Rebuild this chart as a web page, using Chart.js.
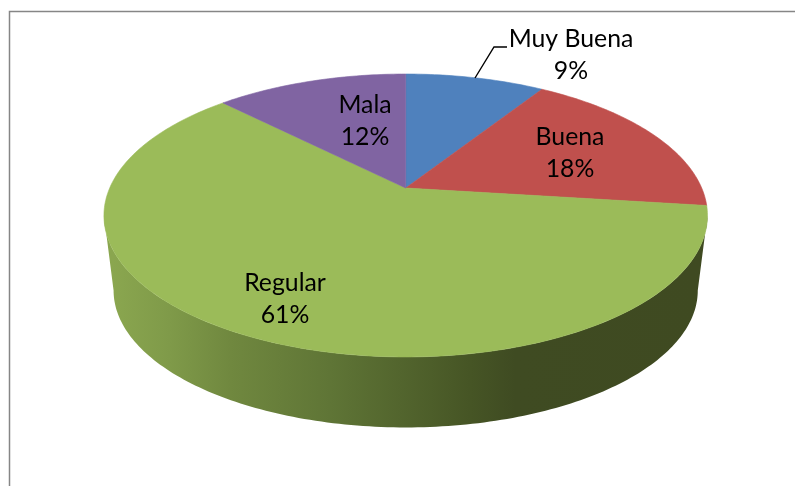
<!DOCTYPE html>
<html>
<head>
<meta charset="utf-8">
<style>html,body{margin:0;padding:0;background:#fff}canvas{display:block}</style>
<script src="https://cdn.jsdelivr.net/npm/chart.js@4/dist/chart.umd.js"></script>
</head>
<body>
<canvas id="c" width="795" height="486"></canvas>
<script>
const categories = ['Muy Buena', 'Buena', 'Regular', 'Mala'];
const values = [9, 18, 60.6, 12.4];
const sliceColors = ['#4f81bd', '#c0504d', '#9bbb59', '#8064a2'];

// Perspective of the pie lid
const view = { cx: 405.7, cy: 188, rx: 296, ry: 99.6, tilt: -0.1943 };
// Side wall: the base rim is the lid rim scaled about its visual centre and pushed down
const base = { scale: 0.968, ox: 405, oy: 215.5, drop: 75, edge: 0.1956 };
const wallStops = [[113,'#8aa64f'],[170,'#7f9a49'],[230,'#70883f'],[330,'#5f7536'],[470,'#465525'],[515,'#3f4b22'],[700,'#3f4a21']];
// Label anchors (text centre x, first baseline y, per category)
const labelAnchors = [[571,47],[570,145],[285,291],[365,113]];
const lineGap = 32;

function project(theta) {
  const x = Math.cos(theta), y = Math.sin(theta), d = 1 + view.tilt * y;
  return [view.cx + view.rx * x / d, (view.ry * y + view.cy) / d];
}
function baseProject(theta) {
  const p = project(theta);
  return [base.ox + (p[0] - base.ox) * base.scale, base.oy + (p[1] - base.oy) * base.scale + base.drop];
}

const pie3d = {
  id: 'pie3d',
  beforeDatasetsDraw(chart) {
    const ctx = chart.ctx;
    ctx.save();
    // frame
    ctx.strokeStyle = '#868686';
    ctx.lineWidth = 1.5;
    ctx.beginPath();
    ctx.moveTo(9.5, 486); ctx.lineTo(9.5, 11.5); ctx.lineTo(795, 11.5);
    ctx.stroke();
    // side wall
    const g = ctx.createLinearGradient(113, 0, 700, 0);
    wallStops.forEach(s => g.addColorStop((s[0] - 113) / (700 - 113), s[1]));
    ctx.fillStyle = g;
    ctx.beginPath();
    const N = 160, from = base.edge, span = Math.PI - 2 * base.edge;
    for (let i = 0; i <= N; i++) {
      const p = project(from + span * i / N);
      i ? ctx.lineTo(p[0], p[1]) : ctx.moveTo(p[0], p[1]);
    }
    for (let i = N; i >= 0; i--) {
      const p = baseProject(from + span * i / N);
      ctx.lineTo(p[0], p[1]);
    }
    ctx.closePath();
    ctx.fill();
    // lid slices from the library's own arc angles
    const arcs = chart.getDatasetMeta(0).data;
    arcs.forEach((arc, idx) => {
      const a = arc.getProps(['startAngle', 'endAngle'], true);
      const col = chart.data.datasets[0].backgroundColor[idx];
      ctx.fillStyle = col;
      ctx.strokeStyle = col;
      ctx.lineWidth = 0.6;
      ctx.beginPath();
      ctx.moveTo(view.cx, view.cy);
      const steps = Math.max(4, Math.ceil((a.endAngle - a.startAngle) * 60));
      for (let i = 0; i <= steps; i++) {
        const p = project(a.startAngle + (a.endAngle - a.startAngle) * i / steps);
        ctx.lineTo(p[0], p[1]);
      }
      ctx.closePath();
      ctx.fill();
      ctx.stroke();
    });
    ctx.restore();
    return false;
  },
  afterDraw(chart) {
    const ctx = chart.ctx;
    ctx.save();
    // leader line for the first label
    ctx.strokeStyle = '#000';
    ctx.lineWidth = 1.4;
    ctx.beginPath();
    ctx.moveTo(475, 78); ctx.lineTo(494, 47); ctx.lineTo(507, 47);
    ctx.stroke();
    // labels
    ctx.fillStyle = '#000';
    ctx.font = '24.8px Lato, "Open Sans", sans-serif';
    ctx.textAlign = 'center';
    ctx.textBaseline = 'alphabetic';
    const total = values.reduce((s, v) => s + v, 0);
    categories.forEach((name, i) => {
      const [x, y] = labelAnchors[i];
      ctx.fillText(name, x, y);
      ctx.fillText(Math.round(values[i] / total * 100) + '%', x, y + lineGap);
    });
    ctx.restore();
  }
};

new Chart(document.getElementById('c'), {
  type: 'pie',
  data: { labels: categories, datasets: [{ data: values, backgroundColor: sliceColors, borderWidth: 0 }] },
  options: {
    responsive: false,
    animation: false,
    plugins: { legend: { display: false }, tooltip: { enabled: false } }
  },
  plugins: [pie3d]
});
</script>
</body>
</html>
